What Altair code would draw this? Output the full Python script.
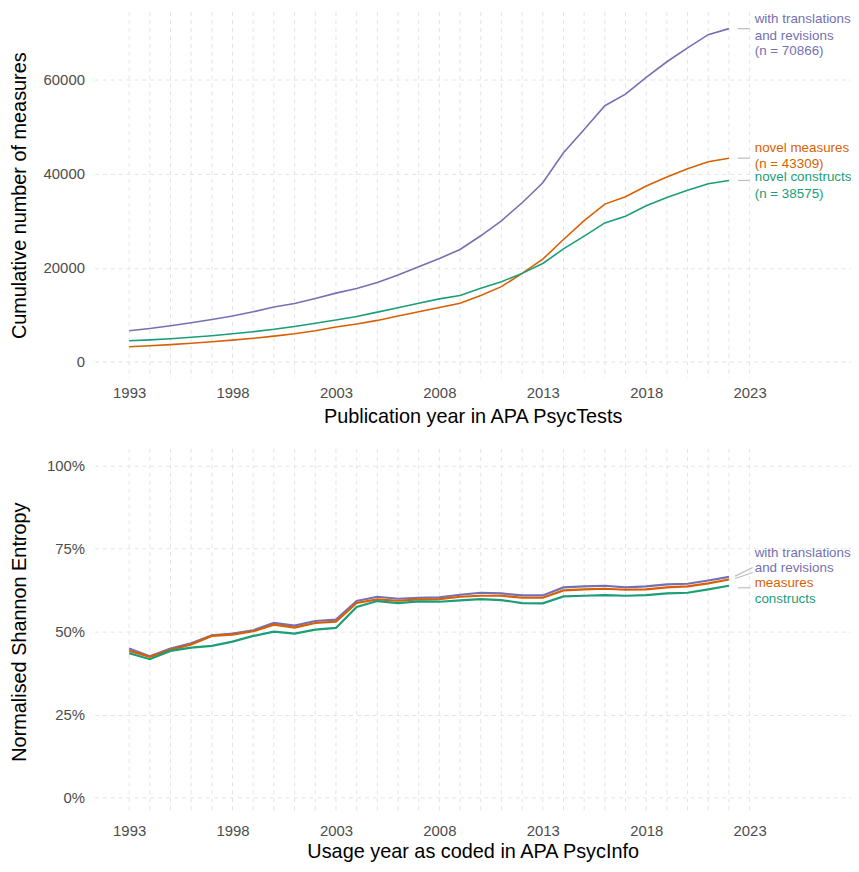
import altair as alt
import pandas as pd

# ---------------- data ----------------
years = list(range(1993, 2023))
series_names = ["with translations and revisions", "novel measures", "novel constructs"]
series_colors = ["#7570B3", "#D95F02", "#1B9E77"]

cum_with_translations = [6600, 7090, 7660, 8300, 9000, 9720, 10640, 11640, 12410, 13470,
                         14600, 15600, 16880, 18450, 20200, 21970, 23880, 26800, 29990, 33830,
                         38080, 44450, 49400, 54470, 56930, 60520, 63820, 66780, 69580, 70866]
cum_novel_measures = [3190, 3400, 3650, 3930, 4250, 4600, 5000, 5450, 5950, 6600,
                      7390, 8030, 8800, 9720, 10630, 11550, 12460, 14080, 15980, 18800,
                      21820, 26000, 30030, 33540, 35090, 37400, 39300, 41050, 42530, 43309]
cum_novel_constructs = [4470, 4650, 4900, 5200, 5550, 5950, 6400, 6900, 7500, 8200,
                        8900, 9640, 10560, 11480, 12460, 13380, 14080, 15630, 17040, 18800,
                        20910, 24000, 26730, 29540, 30940, 33190, 34950, 36490, 37890, 38575]

ent_with_translations = [0.449, 0.426, 0.449, 0.465, 0.489, 0.494, 0.504, 0.526, 0.518, 0.532,
                         0.536, 0.592, 0.605, 0.599, 0.602, 0.603, 0.611, 0.617, 0.615, 0.609,
                         0.609, 0.633, 0.636, 0.638, 0.633, 0.636, 0.642, 0.644, 0.654, 0.665]
ent_measures = [0.442, 0.424, 0.445, 0.461, 0.487, 0.491, 0.501, 0.521, 0.512, 0.526,
                0.530, 0.586, 0.597, 0.593, 0.597, 0.598, 0.605, 0.608, 0.608, 0.602,
                0.602, 0.624, 0.627, 0.629, 0.626, 0.627, 0.633, 0.636, 0.645, 0.657]
ent_constructs = [0.435, 0.417, 0.442, 0.452, 0.457, 0.470, 0.487, 0.500, 0.494, 0.506,
                  0.511, 0.574, 0.592, 0.586, 0.591, 0.590, 0.594, 0.598, 0.595, 0.586,
                  0.585, 0.606, 0.608, 0.610, 0.608, 0.610, 0.615, 0.617, 0.627, 0.638]

grid_years = list(range(1993, 2024))
x_tick_years = list(range(1993, 2024, 5))
top_y_ticks = [0, 20000, 40000, 60000]
bottom_y_ticks = [0, 0.25, 0.5, 0.75, 1.0]

top_label_lines = ["with translations", "and revisions", "(n = 70866)",
                   "novel measures", "(n = 43309)",
                   "novel constructs", "(n = 38575)"]
top_label_series = [0, 0, 0, 1, 1, 2, 2]
top_label_at = [72920, 69330, 66160, 45470, 42090, 39340, 35750]

bottom_label_lines = ["with translations", "and revisions", "measures", "constructs"]
bottom_label_series = [0, 0, 1, 2]
bottom_label_at = [0.738, 0.690, 0.645, 0.597]

bottom_seg_from = [0.667, 0.660, 0.632]
bottom_seg_to = [0.693, 0.678, 0.632]

# ---------------- tables ----------------
def long(vals_list):
    rows = []
    for name, vals in zip(series_names, vals_list):
        for y, v in zip(years, vals):
            rows.append({"year": y, "value": v, "series": name})
    return pd.DataFrame(rows)

top_df = long([cum_with_translations, cum_novel_measures, cum_novel_constructs])
bot_df = long([ent_with_translations, ent_measures, ent_constructs])
grid_df = pd.DataFrame({"year": grid_years})

label_x = 2023.245
top_lab_df = pd.DataFrame({"year": [label_x] * len(top_label_lines), "value": top_label_at,
                           "text": top_label_lines,
                           "series": [series_names[i] for i in top_label_series]})
bot_lab_df = pd.DataFrame({"year": [label_x] * len(bottom_label_lines), "value": bottom_label_at,
                           "text": bottom_label_lines,
                           "series": [series_names[i] for i in bottom_label_series]})
top_seg_df = pd.DataFrame({"x1": [2022.43] * 3, "x2": [2023.0] * 3,
                           "y1": [cum_with_translations[-1], cum_novel_measures[-1], cum_novel_constructs[-1]]})
bot_seg_df = pd.DataFrame({"x1": [2022.3, 2022.3, 2022.45], "x2": [2023.15, 2023.15, 2023.05],
                           "y1": bottom_seg_from, "y2": bottom_seg_to})

# ---------------- styling ----------------
FONT = "Liberation Sans"
GRID = "#E4E4E4"
W, H_TOP, H_BOT = 762, 369, 368
xscale = alt.Scale(domain=[1991.32, 1991.32 + W / 20.83], nice=False, zero=False)
color = alt.Color("series:N", scale=alt.Scale(domain=series_names, range=series_colors), legend=None)


def xaxis(title, label_pad, title_pad):
    return alt.Axis(values=x_tick_years, format="d", grid=False, ticks=False, tickSize=0,
                    domain=False, labelFontSize=15, labelColor="#4D4D4D", labelFont=FONT,
                    labelFlush=False, labelPadding=label_pad,
                    title=title, titleFontSize=20, titleFontWeight="normal",
                    titleColor="black", titleFont=FONT, titlePadding=title_pad)


def yaxis(title, values, fmt):
    return alt.Axis(values=values, format=fmt, grid=True, gridDash=[4, 4], gridColor=GRID,
                    ticks=False, tickSize=0, domain=False, labelFontSize=15,
                    labelColor="#4D4D4D", labelFont=FONT, labelPadding=10,
                    minExtent=50, maxExtent=50,
                    title=title, titleFontSize=20, titleFontWeight="normal",
                    titleColor="black", titleFont=FONT, titlePadding=15)


def vgrid():
    return alt.Chart(grid_df).mark_rule(color=GRID, strokeDash=[4, 4], strokeWidth=1).encode(
        x=alt.X("year:Q", scale=xscale))


top_lines = alt.Chart(top_df).mark_line(strokeWidth=1.6).encode(
    x=alt.X("year:Q", scale=xscale, axis=xaxis("Publication year in APA PsycTests", 7, 6)),
    y=alt.Y("value:Q", scale=alt.Scale(domain=[-3540, 74400], nice=False, zero=False),
            axis=yaxis("Cumulative number of measures", top_y_ticks, "d")),
    color=color,
)
top_segs = alt.Chart(top_seg_df).mark_rule(color="#BDBDBD", strokeWidth=1.2).encode(
    x="x1:Q", x2="x2:Q", y="y1:Q")
top_text = alt.Chart(top_lab_df).mark_text(align="left", baseline="middle", fontSize=13.5,
                                           font=FONT, clip=True).encode(
    x="year:Q", y="value:Q", text="text:N", color=color)
top = alt.layer(vgrid(), top_lines, top_segs, top_text).properties(width=W, height=H_TOP)

bot_lines = alt.Chart(bot_df).mark_line(strokeWidth=2.2).encode(
    x=alt.X("year:Q", scale=xscale, axis=xaxis("Usage year as coded in APA PsycInfo", 9, 4)),
    y=alt.Y("value:Q", scale=alt.Scale(domain=[-0.05, 1.05], nice=False, zero=False),
            axis=yaxis("Normalised Shannon Entropy", bottom_y_ticks, ".0%")),
    color=color,
)
bot_segs = alt.Chart(bot_seg_df).mark_rule(color="#BDBDBD", strokeWidth=1.2).encode(
    x="x1:Q", x2="x2:Q", y="y1:Q", y2="y2:Q")
bot_text = alt.Chart(bot_lab_df).mark_text(align="left", baseline="middle", fontSize=13.5,
                                           font=FONT, clip=True).encode(
    x="year:Q", y="value:Q", text="text:N", color=color)
bottom = alt.layer(vgrid(), bot_lines, bot_segs, bot_text).properties(width=W, height=H_BOT)

chart = alt.vconcat(top, bottom, spacing=22).properties(
    padding={"left": 2, "top": 0, "right": 0, "bottom": 0},
    background="white",
).configure_view(stroke=None)

chart.save("out.html", embed_options={"renderer": "svg", "actions": False})
